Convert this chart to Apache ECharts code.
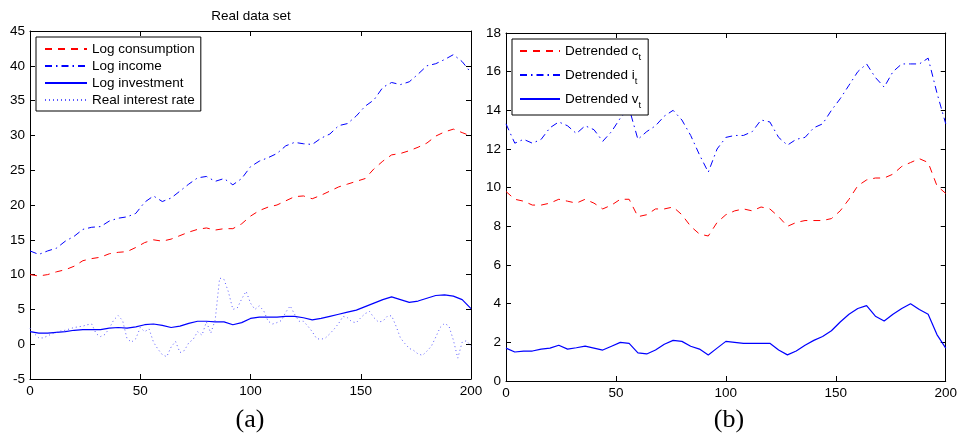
<!DOCTYPE html>
<html>
<head>
<meta charset="utf-8">
<script src="https://cdn.jsdelivr.net/npm/echarts@6/dist/echarts.min.js"></script>
<style>html,body{margin:0;padding:0;background:#fff;}#c{width:960px;height:435px;}</style>
</head>
<body>
<div id="c"></div>
<script>
// ---- Data ----
const xs4 = [0,4,8,12,16,20,24,28,32,36,40,44,48,52,56,60,64,68,72,76,80,84,88,92,96,100,104,108,112,116,120,124,128,132,136,140,144,148,152,156,160,164,168,172,176,180,184,188,192,196,200];
const xs2 = [0,2,4,6,8,10,12,14,16,18,20,22,24,26,28,30,32,34,36,38,40,42,44,46,48,50,52,54,56,58,60,62,64,66,68,70,72,74,76,78,80,82,84,86,88,90,92,94,96,98,100,102,104,106,108,110,112,114,116,118,120,122,124,126,128,130,132,134,136,138,140,142,144,146,148,150,152,154,156,158,160,162,164,166,168,170,172,174,176,178,180,182,184,186,188,190,192,194,196,198,200];

const logConsumption = [10.0,9.8,10.0,10.4,10.7,11.2,12.0,12.3,12.5,13.0,13.2,13.3,13.9,14.6,15.0,14.8,15.1,15.6,16.1,16.5,16.7,16.4,16.6,16.6,17.3,18.4,19.2,19.7,20.0,20.6,21.2,21.3,20.9,21.4,22.0,22.6,23.0,23.4,23.8,25.2,26.3,27.2,27.4,27.8,28.3,28.9,29.9,30.5,30.9,30.4,29.9];
const logIncome = [13.4,12.9,13.4,13.8,14.8,15.5,16.5,16.8,16.9,17.7,18.1,18.3,18.8,20.4,21.3,20.5,21.0,22.0,23.0,23.9,24.1,23.4,23.8,22.9,23.8,25.5,26.3,26.8,27.4,28.5,29.0,28.8,28.7,29.6,30.2,31.4,31.7,32.8,34.2,35.1,36.9,37.6,37.3,37.7,38.8,40.0,40.3,40.9,41.6,40.6,39.0];
const logInvestment = [1.8,1.6,1.6,1.7,1.8,2.0,2.1,2.1,2.1,2.3,2.4,2.3,2.5,2.8,2.9,2.7,2.4,2.6,3.0,3.3,3.3,3.2,3.2,2.8,3.1,3.7,3.9,3.9,3.9,4.0,4.0,3.8,3.5,3.7,4.0,4.3,4.6,4.9,5.4,5.9,6.4,6.8,6.4,6.0,6.2,6.6,7.0,7.1,6.9,6.4,5.1];
const realInterest = [2.3,1.5,0.9,0.9,1.2,1.5,1.7,1.9,2.0,2.2,2.4,2.5,2.6,2.8,2.9,1.5,1.1,1.4,2.3,3.5,4.1,3.4,0.8,0.3,0.8,2.4,1.8,2.2,0.3,-0.7,-1.5,-1.8,-0.4,0.4,-1.2,-0.9,0.2,0.7,1.8,1.3,3.2,1.6,3.5,9.5,9.3,7.5,5.0,5.2,6.5,7.6,5.9,5.0,5.5,4.8,3.3,2.9,3.1,3.4,4.6,5.5,4.3,3.3,3.3,2.6,1.8,0.8,0.7,0.9,1.5,2.2,3.0,4.0,3.8,3.2,3.1,3.8,4.4,4.7,3.8,3.2,3.3,4.0,4.1,2.6,0.9,0.1,-0.6,-0.9,-1.4,-1.6,-1.0,-0.3,1.0,2.4,3.0,2.6,0.6,-2.0,0.3,0.5,-0.3];

const detrC = [9.8,9.4,9.3,9.1,9.1,9.2,9.4,9.3,9.2,9.4,9.2,8.9,9.1,9.4,9.4,8.5,8.6,8.9,8.9,9.0,8.6,8.0,7.6,7.5,8.2,8.6,8.8,8.9,8.8,9.0,8.9,8.5,8.0,8.2,8.3,8.3,8.3,8.4,8.8,9.4,10.1,10.4,10.5,10.5,10.7,11.1,11.3,11.5,11.3,10.1,9.7];
const detrI = [13.3,12.3,12.5,12.3,12.5,13.1,13.4,13.2,12.8,13.2,13.0,12.4,12.9,13.6,14.1,12.5,12.9,13.2,13.7,14.0,13.5,12.7,11.7,10.8,12.0,12.6,12.7,12.7,12.9,13.5,13.4,12.6,12.2,12.5,12.6,13.1,13.3,14.0,14.6,15.3,16.0,16.4,15.7,15.2,16.0,16.4,16.4,16.4,16.7,14.9,13.3];
const detrV = [1.7,1.5,1.55,1.55,1.65,1.7,1.85,1.65,1.72,1.8,1.7,1.6,1.8,2.0,1.95,1.45,1.4,1.6,1.9,2.1,2.05,1.8,1.65,1.35,1.7,2.05,2.0,1.95,1.95,1.95,1.95,1.6,1.35,1.55,1.85,2.1,2.3,2.6,3.05,3.45,3.75,3.9,3.35,3.1,3.45,3.75,4.0,3.7,3.45,2.4,1.7];

const leftNames = ['Log consumption','Log income','Log investment','Real interest rate'];
const rightNames = ['Detrended c','Detrended i','Detrended v'];
const xTicks = {min:0, max:200, interval:50};
const yLeft = {min:-5, max:45, interval:5};
const yRight = {min:0, max:18, interval:2};

// ---- Build ----
const pairs = (xs, ys) => xs.map((x, i) => [x, ys[i]]);
const FONT = 'Liberation Sans';
const BLUE = '#0000ff', RED = '#ff0000', LIGHTBLUE = '#5a5aff';

function axisBase(extra) {
  return Object.assign({
    type: 'value',
    axisLine: {show: true, onZero: false, lineStyle: {color: '#000', width: 1}},
    axisTick: {show: true, inside: true, length: 5, lineStyle: {color: '#000'}},
    splitLine: {show: false},
    axisLabel: {show: true, color: '#000', fontFamily: FONT, fontSize: 13.5, margin: 5}
  }, extra);
}
const noLabel = {show: false};

const subRich = {
  m: {fontFamily: FONT, fontSize: 13.5, color: '#000', lineHeight: 22},
  s: {fontFamily: FONT, fontSize: 9.5, color: '#000', verticalAlign: 'bottom'}
};

const option = {
  animation: false,
  backgroundColor: '#fff',
  grid: [
    {left: 30, top: 31, width: 441, height: 348},
    {left: 506, top: 33, width: 441, height: 348}
  ],
  xAxis: [
    axisBase(Object.assign({gridIndex: 0, position: 'bottom'}, xTicks)),
    axisBase(Object.assign({gridIndex: 0, position: 'top', axisLabel: noLabel}, xTicks)),
    axisBase(Object.assign({gridIndex: 1, position: 'bottom'}, xTicks)),
    axisBase(Object.assign({gridIndex: 1, position: 'top', axisLabel: noLabel}, xTicks))
  ],
  yAxis: [
    axisBase(Object.assign({gridIndex: 0, position: 'left'}, yLeft)),
    axisBase(Object.assign({gridIndex: 0, position: 'right', axisLabel: noLabel}, yLeft)),
    axisBase(Object.assign({gridIndex: 1, position: 'left'}, yRight)),
    axisBase(Object.assign({gridIndex: 1, position: 'right', axisLabel: noLabel}, yRight))
  ],
  legend: [
    {
      data: leftNames, orient: 'vertical', left: 36, top: 37,
      itemWidth: 42, itemHeight: 14, itemGap: 3,
      padding: [5, 6, 4, 8],
      backgroundColor: '#fff', borderColor: '#000', borderWidth: 1, borderRadius: 0,
      itemStyle: {opacity: 0},
      textStyle: {fontFamily: FONT, fontSize: 13.5, color: '#000'},
      selectedMode: false
    },
    {
      data: rightNames, orient: 'vertical', left: 512, top: 39,
      itemWidth: 40, itemHeight: 14, itemGap: 6,
      padding: [5, 7, 5, 7],
      backgroundColor: '#fff', borderColor: '#000', borderWidth: 1, borderRadius: 0,
      itemStyle: {opacity: 0},
      textStyle: {fontFamily: FONT, fontSize: 13.5, color: '#000', rich: subRich},
      formatter: function (name) {
        return '{m|' + name + '}{s|t}';
      },
      selectedMode: false
    }
  ],
  graphic: [
    {type: 'text', x: 251, y: 16, style: {text: 'Real data set', fontFamily: FONT, fontSize: 13.5, fill: '#000', align: 'center', verticalAlign: 'middle'}},
    {type: 'text', x: 250, y: 420, style: {text: '(a)', fontFamily: 'Liberation Serif', fontSize: 26, fill: '#000', align: 'center', verticalAlign: 'middle'}},
    {type: 'text', x: 729, y: 420, style: {text: '(b)', fontFamily: 'Liberation Serif', fontSize: 26, fill: '#000', align: 'center', verticalAlign: 'middle'}}
  ],
  series: [
    {name: leftNames[0], type: 'line', xAxisIndex: 0, yAxisIndex: 0, symbol: 'none',
     data: pairs(xs4, logConsumption), lineStyle: {color: RED, width: 1, type: [7, 6]}, itemStyle: {color: RED}},
    {name: leftNames[1], type: 'line', xAxisIndex: 0, yAxisIndex: 0, symbol: 'none',
     data: pairs(xs4, logIncome), lineStyle: {color: BLUE, width: 1, type: [7, 4, 1.5, 4]}, itemStyle: {color: BLUE}},
    {name: leftNames[2], type: 'line', xAxisIndex: 0, yAxisIndex: 0, symbol: 'none',
     data: pairs(xs4, logInvestment), lineStyle: {color: BLUE, width: 1.2, type: 'solid'}, itemStyle: {color: BLUE}},
    {name: leftNames[3], type: 'line', xAxisIndex: 0, yAxisIndex: 0, symbol: 'none',
     data: pairs(xs2, realInterest), lineStyle: {color: LIGHTBLUE, width: 1, type: [1, 3]}, itemStyle: {color: LIGHTBLUE}},
    {name: rightNames[0], type: 'line', xAxisIndex: 2, yAxisIndex: 2, symbol: 'none',
     data: pairs(xs4, detrC), lineStyle: {color: RED, width: 1, type: [7, 6]}, itemStyle: {color: RED}},
    {name: rightNames[1], type: 'line', xAxisIndex: 2, yAxisIndex: 2, symbol: 'none',
     data: pairs(xs4, detrI), lineStyle: {color: BLUE, width: 1, type: [7, 4, 1.5, 4]}, itemStyle: {color: BLUE}},
    {name: rightNames[2], type: 'line', xAxisIndex: 2, yAxisIndex: 2, symbol: 'none',
     data: pairs(xs4, detrV), lineStyle: {color: BLUE, width: 1.2, type: 'solid'}, itemStyle: {color: BLUE}}
  ]
};

const chart = echarts.init(document.getElementById('c'), null, {renderer: 'canvas'});
chart.setOption(option);
</script>
</body>
</html>
